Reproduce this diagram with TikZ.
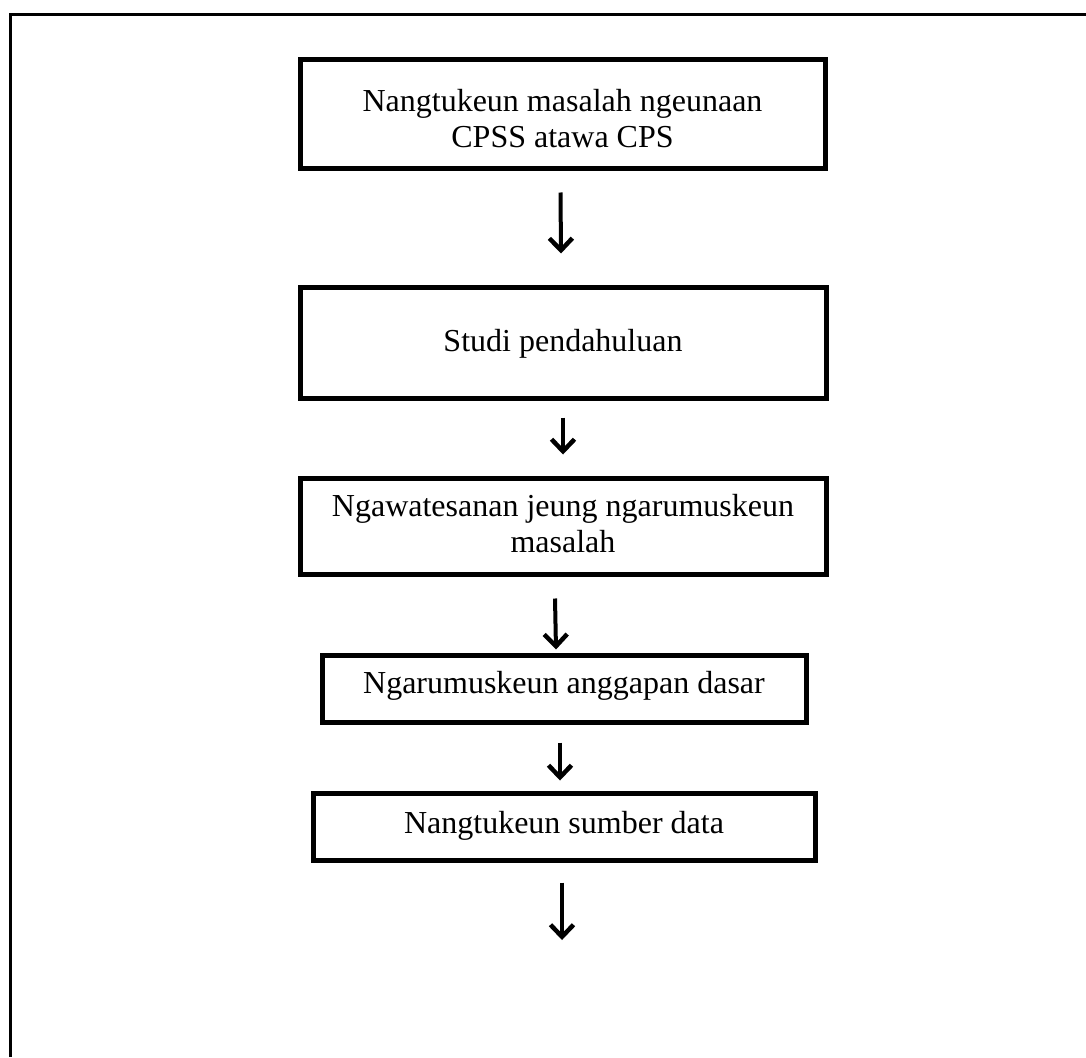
\documentclass[tikz,border=0pt]{standalone}
\usepackage{fontspec}
\setmainfont{Liberation Serif}
\usetikzlibrary{arrows.meta}
\begin{document}
\begin{tikzpicture}[x=1pt,y=-1pt,
  stepbox/.style={draw=black, line width=5pt, inner sep=0pt},
  steptext/.style={align=center, inner sep=0pt, font=\fontsize{32}{36}\selectfont},
  flow/.style={line width=4pt, -{Straight Barb[length=12pt,width=23pt,line width=4.5pt]}},
  frame/.style={line width=3pt}]
\useasboundingbox (0,0) rectangle (1086,1057);
\fill[white] (0,0) rectangle (1086,1057);
\draw[frame] (10.5,1057) -- (10.5,15) -- (1086,15);
% boxes
\node[stepbox, minimum width=525pt, minimum height=108pt] (b1) at (562.5,114) {};
\node[steptext] (t1) at (562.5,119) {Nangtukeun masalah ngeunaan\\CPSS atawa CPS};
\node[stepbox, minimum width=526pt, minimum height=111pt] (b2) at (563,342.5) {};
\node[steptext] (t2) at (563,344) {Studi pendahuluan};
\node[stepbox, minimum width=526pt, minimum height=96pt] (b3) at (563,526) {};
\node[steptext] (t3) at (563,524) {Ngawatesanan jeung ngarumuskeun\\masalah};
\node[stepbox, minimum width=484pt, minimum height=67pt] (b4) at (564,688.5) {};
\node[steptext] (t4) at (564,686) {Ngarumuskeun anggapan dasar};
\node[stepbox, minimum width=502pt, minimum height=67pt] (b5) at (564,826.5) {};
\node[steptext] (t5) at (564,826) {Nangtukeun sumber data};
\coordinate (end) at (562,940);
% arrows
\draw[flow] ([xshift=-2pt,yshift=-22pt]b1.south) -- ([xshift=-2pt,yshift=31pt]b2.north);
\draw[flow] ([yshift=-17pt]b2.south) -- ([yshift=21pt]b3.north);
\draw[flow] ([xshift=-8pt,yshift=-22pt]b3.south) -- ([xshift=-8pt,yshift=3pt]b4.north);
\draw[flow] ([xshift=-4pt,yshift=-18pt]b4.south) -- ([xshift=-4pt,yshift=10pt]b5.north);
\draw[flow] ([xshift=-2pt,yshift=-20pt]b5.south) -- (end);
\end{tikzpicture}
\end{document}
